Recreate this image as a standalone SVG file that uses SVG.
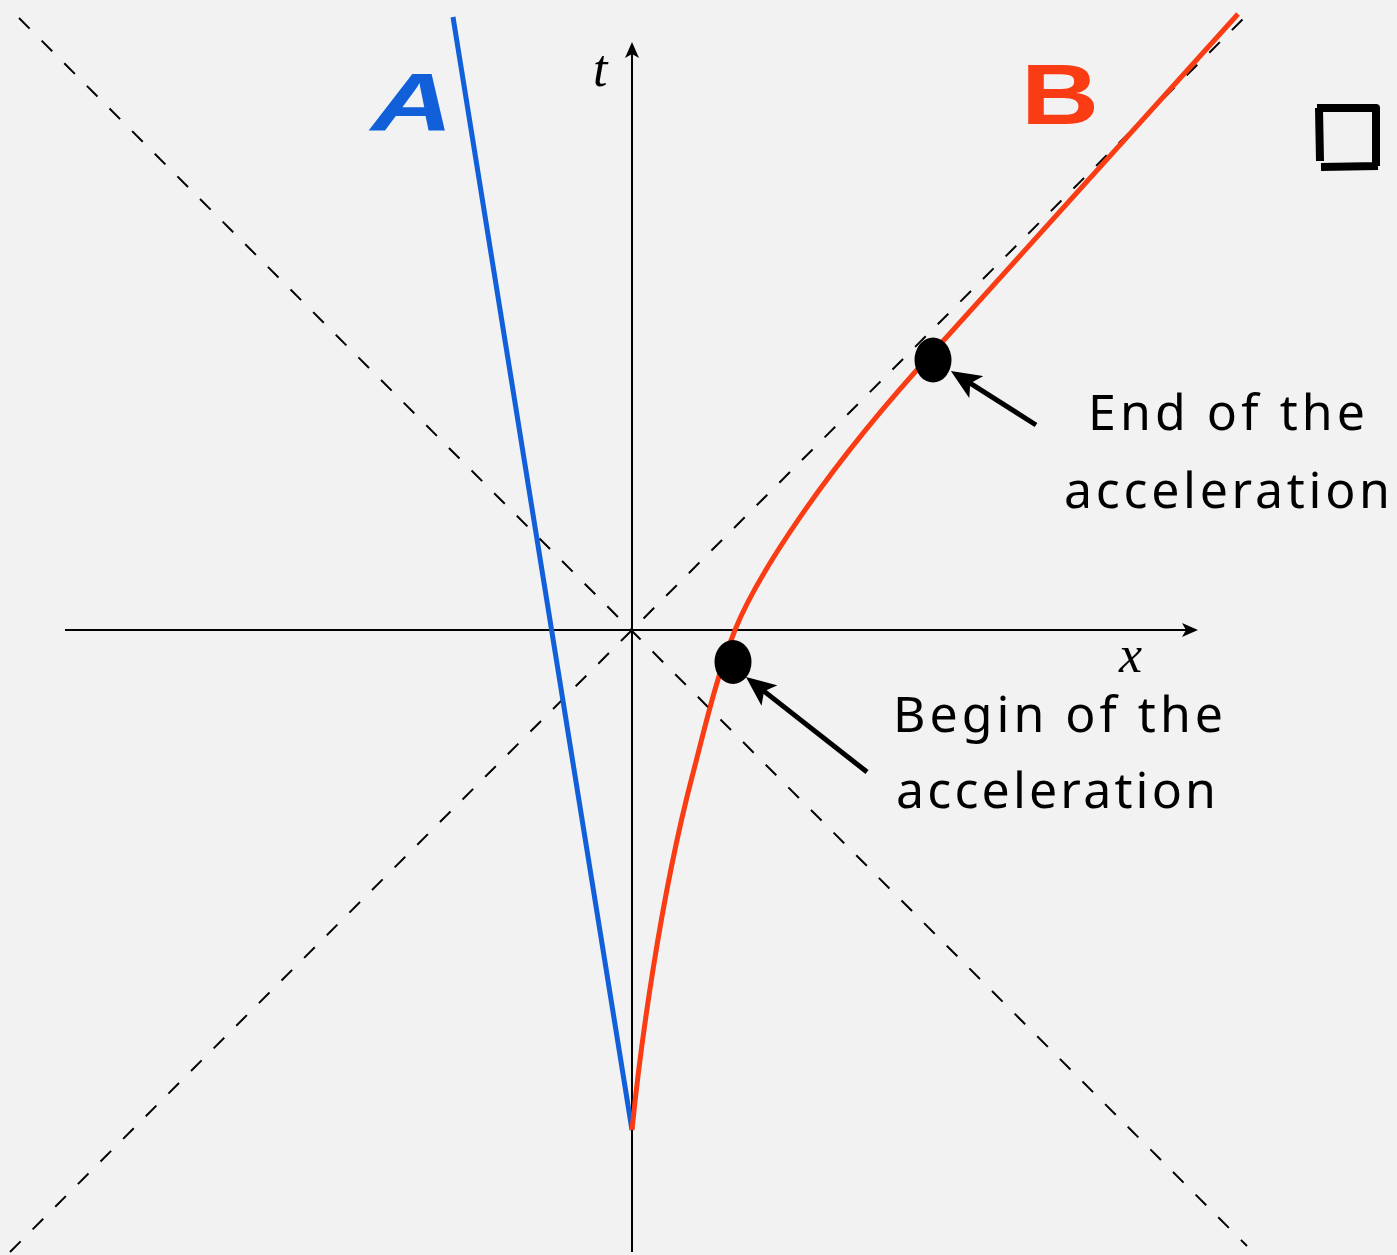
<svg xmlns="http://www.w3.org/2000/svg" width="1397" height="1255" viewBox="0 0 1397 1255">
<style>
.axis{stroke:#000;stroke-width:2;fill:none}
.dash{stroke:#000;stroke-width:2;fill:none;stroke-dasharray:15 17}
.ptr{stroke:#000;stroke-width:5;fill:none}
.dot{fill:#000}
.note{font-family:"Noto Sans","DejaVu Sans",sans-serif;font-size:50px;fill:#000}
.math{font-family:"Liberation Serif",serif;font-style:italic;font-size:52px;fill:#000}
</style>
<defs>
<marker id="ax" markerUnits="userSpaceOnUse" viewBox="0 0 16 14" markerWidth="16" markerHeight="14" refX="9" refY="7" orient="auto">
<path d="M0,0 L16,7 L0,14 L4,7 Z" fill="#000"/>
</marker>
<marker id="ar" markerUnits="userSpaceOnUse" viewBox="0 0 30 26" markerWidth="30" markerHeight="26" refX="18" refY="13" orient="auto">
<path d="M0,0 L30,13 L0,26 L7,13 Z" fill="#000"/>
</marker>
</defs>
<rect width="1397" height="1255" fill="#f2f2f2"/>
<g id="lightcone">
<line class="dash" x1="19" y1="18" x2="1247" y2="1246"/>
<line class="dash" x1="10" y1="1252" x2="1246" y2="16"/>
</g>
<g id="axes">
<line class="axis" x1="65" y1="630" x2="1191" y2="630" marker-end="url(#ax)"/>
<line class="axis" x1="632" y1="1252" x2="632" y2="49" marker-end="url(#ax)"/>
<text class="math" x="593" y="86">t</text>
<text class="math" x="1119" y="672">x</text>
</g>
<g id="worldline-A">
<line x1="453" y1="17" x2="632" y2="1130" stroke="#1160d9" stroke-width="5"/>
<text x="371" y="130" font-family="Liberation Sans,sans-serif" font-weight="bold" font-style="italic" font-size="82" fill="#1160d9" textLength="82" lengthAdjust="spacingAndGlyphs">A</text>
</g>
<g id="worldline-B">
<path d="M632,1130 C640,1050 660,900 692,777 C702,740 715,680 735,630 C755,580 820,475 935,350 L1238,14" fill="none" stroke="#fa3c14" stroke-width="5"/>
<text x="1021" y="124" font-family="Liberation Sans,sans-serif" font-weight="bold" font-size="86" fill="#fa3c14" textLength="78" lengthAdjust="spacingAndGlyphs">B</text>
</g>
<g id="begin">
<ellipse class="dot" cx="733" cy="662" rx="18.5" ry="22"/>
<text class="note" x="893" y="732" textLength="330" lengthAdjust="spacing">Begin of the</text>
<text class="note" x="896" y="808" textLength="320" lengthAdjust="spacing">acceleration</text>
</g>
<g id="end">
<ellipse class="dot" cx="933" cy="360" rx="18.5" ry="22.5"/>
<text class="note" x="1088" y="430" textLength="277" lengthAdjust="spacing">End of the</text>
<text class="note" x="1064" y="508" textLength="326" lengthAdjust="spacing">acceleration</text>
</g>
<g id="qed">
<path d="M1317,108 L1376,108 L1376,166 M1319,108 L1320,161 M1321,167 L1378,166" fill="none" stroke="#000" stroke-width="8" stroke-linejoin="round"/>
</g>
<g id="connectors">
<line class="ptr" x1="1036" y1="425" x2="961" y2="377.4" marker-end="url(#ar)"/>
<line class="ptr" x1="867" y1="772" x2="755.4" y2="684.4" marker-end="url(#ar)"/>
</g>
</svg>
